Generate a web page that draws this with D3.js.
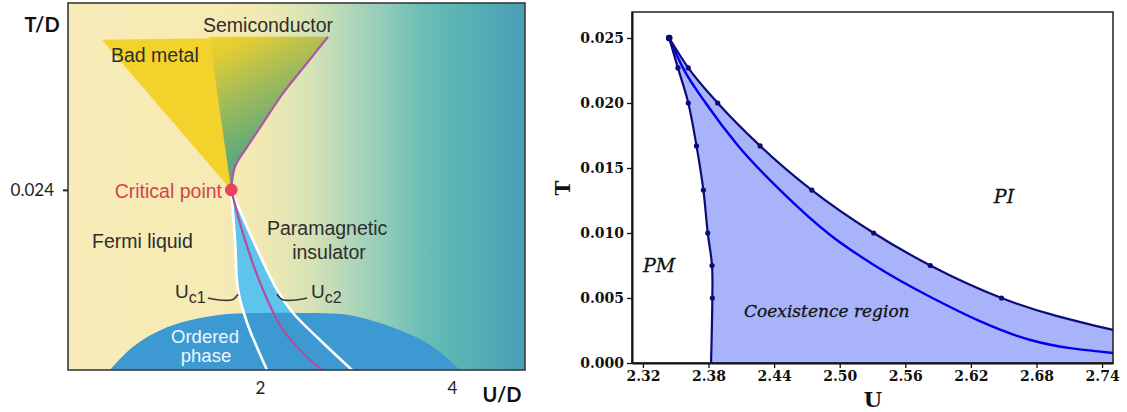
<!DOCTYPE html>
<html><head><meta charset="utf-8">
<script src="https://cdn.jsdelivr.net/npm/d3@7"></script>
<style>body{margin:0;background:#fff;} svg{display:block;}</style>
</head><body>
<svg id="chart" width="1127" height="412"></svg>
<script>
// ---------- Left schematic panel data (U/D, T/D) ----------
const leftXTicks = [2, 4];
const leftYTicks = [0.024];
const criticalPoint = [1.70, 0.024];
const fanTopLeft = [0.354, 0.0440];
const fanSplitTop = [1.47, 0.0444];
const semicondU = [1.70, 1.74, 1.865, 2.031, 2.24, 2.49, 2.708];
const semicondT = [0.024, 0.0271, 0.0297, 0.0329, 0.0369, 0.0409, 0.0444];
const purpleLowU = [1.70, 1.844, 2.031, 2.24, 2.49, 2.646];
const purpleLowT = [0.024, 0.0173, 0.0107, 0.0053, 0.0017, 0];
const uc1SchemU = [1.70, 1.74, 1.771, 1.865, 1.979, 2.073];
const uc1SchemT = [0.024, 0.0173, 0.0107, 0.0063, 0.0027, 0];
const uc2SchemU = [1.70, 1.927, 2.177, 2.344, 2.625, 2.958];
const uc2SchemT = [0.024, 0.0173, 0.0107, 0.0076, 0.0040, 0];
const domeU = [0.4375, 0.677, 1.031, 1.552, 2.073, 2.417, 2.9375, 3.458, 3.802, 4.083];
const domeT = [0, 0.0031, 0.0057, 0.0073, 0.0076, 0.0076, 0.0073, 0.0053, 0.0031, 0];
const hook1U = [1.458, 1.60, 1.72, 1.771];
const hook1T = [0.0096, 0.0093, 0.0094, 0.0101];
const hook2U = [2.177, 2.23, 2.35, 2.49];
const hook2T = [0.0101, 0.0094, 0.0093, 0.0096];

// ---------- Right chart data (U, T) ----------
const uc1U = [2.344, 2.352, 2.3615, 2.369, 2.3753, 2.3793, 2.3832, 2.3835];
const uc1T = [0.025, 0.0227, 0.020, 0.0167, 0.0133, 0.010, 0.0075, 0.005];
const uc1FitEnd = [2.3823, 0];
const uc2U = [2.344, 2.3615, 2.3884, 2.4272, 2.4745, 2.5311, 2.5829, 2.648];
const uc2T = [0.025, 0.0227, 0.020, 0.0167, 0.0133, 0.010, 0.0075, 0.005];
const uc2FitEnd = [2.75, 0.00254];
const midU = [2.344, 2.3566, 2.3774, 2.4072, 2.4455, 2.4913, 2.532, 2.583, 2.6745, 2.7505];
const midT = [0.025, 0.0227, 0.020, 0.0167, 0.0133, 0.00985, 0.0075, 0.00508, 0.00177, 0.00077];
const xTicksR = [2.32, 2.38, 2.44, 2.50, 2.56, 2.62, 2.68, 2.74];
const yTicksR = [0, 0.005, 0.010, 0.015, 0.020, 0.025];

const zip = (a, b) => a.map((v, i) => [v, b[i]]);
const svg = d3.select("#chart");
const defs = svg.append("defs");

// ================= LEFT PANEL =================
const L = {x0: 68, x1: 525, y0: 3, y1: 370};
const xL = d3.scaleLinear().domain([0, 4.76]).range([L.x0, L.x1]);
const yL = d3.scaleLinear().domain([0, 0.0489]).range([L.y1, L.y0]);
const lineL = d3.line().x(d => xL(d[0])).y(d => yL(d[1])).curve(d3.curveCatmullRom.alpha(0.5));

const bg = defs.append("linearGradient").attr("id", "bgL")
  .attr("gradientUnits", "userSpaceOnUse")
  .attr("x1", L.x0).attr("y1", 0).attr("x2", L.x1).attr("y2", 0);
[[0, "#f7ebb7"], [0.36, "#f6eab4"], [0.44, "#eee8b2"], [0.53, "#d6e3b5"], [0.62, "#b0d6ba"],
 [0.705, "#8ccab9"], [0.77, "#6ebfb6"], [0.84, "#5cb6b3"], [0.92, "#52aab6"], [1, "#4a9db6"]]
 .forEach(([o, c]) => bg.append("stop").attr("offset", o).attr("stop-color", c));

const fanG = defs.append("linearGradient").attr("id", "fanG")
  .attr("gradientUnits", "userSpaceOnUse")
  .attr("x1", 208).attr("y1", 40).attr("x2", 262).attr("y2", 145);
[[0, "#f0d22e"], [0.15, "#e2cd34"], [0.5, "#a8bd55"], [1, "#5ea97b"]]
 .forEach(([o, c]) => fanG.append("stop").attr("offset", o).attr("stop-color", c));

defs.append("clipPath").attr("id", "clipL").append("rect")
  .attr("x", L.x0).attr("y", L.y0).attr("width", L.x1 - L.x0).attr("height", L.y1 - L.y0);

const gL = svg.append("g");
const gLc = gL.append("g").attr("clip-path", "url(#clipL)");
gLc.append("rect").attr("x", L.x0).attr("y", L.y0).attr("width", L.x1 - L.x0).attr("height", L.y1 - L.y0)
  .attr("fill", "url(#bgL)");

const semi = zip(semicondU, semicondT);
const semiTail = lineL(semi).replace(/^M[^LC]*/, "");
const fanPath = "M" + xL(fanTopLeft[0]) + "," + yL(fanTopLeft[1]) + "L" + xL(criticalPoint[0]) + "," + yL(criticalPoint[1]) + semiTail + "Z";
gLc.append("path").attr("d", fanPath).attr("fill", "#f4d22c");
const greenPath = "M" + xL(fanSplitTop[0]) + "," + yL(fanSplitTop[1]) + "L" + xL(criticalPoint[0]) + "," + yL(criticalPoint[1]) + semiTail + "Z";
gLc.append("path").attr("d", greenPath).attr("fill", "url(#fanG)");

const uc1S = zip(uc1SchemU, uc1SchemT), uc2S = zip(uc2SchemU, uc2SchemT);
const coexPath = lineL(uc1S) + "L" + xL(uc2S[uc2S.length - 1][0]) + "," + yL(0)
  + lineL(uc2S.slice().reverse()).replace(/^M/, "L") + "Z";
gLc.append("path").attr("d", coexPath).attr("fill", "#5fc4ec");

gLc.append("path").attr("d", lineL(zip(domeU, domeT)) + "Z").attr("fill", "#3c99d1");

gLc.append("path").attr("d", lineL(uc1S)).attr("fill", "none").attr("stroke", "#fff").attr("stroke-width", 2.6);
gLc.append("path").attr("d", lineL(uc2S)).attr("fill", "none").attr("stroke", "#fff").attr("stroke-width", 2.6);
gLc.append("path").attr("d", lineL(semi)).attr("fill", "none").attr("stroke", "#b055a8").attr("stroke-width", 2.2);
gLc.append("path").attr("d", lineL(zip(purpleLowU, purpleLowT))).attr("fill", "none").attr("stroke", "#b04f9e").attr("stroke-width", 2.2);
gLc.append("circle").attr("cx", xL(criticalPoint[0])).attr("cy", yL(criticalPoint[1])).attr("r", 6.3).attr("fill", "#e8435a");
gLc.append("path").attr("d", lineL(zip(hook1U, hook1T))).attr("fill", "none").attr("stroke", "#3a3a3a").attr("stroke-width", 1.6);
gLc.append("path").attr("d", lineL(zip(hook2U, hook2T))).attr("fill", "none").attr("stroke", "#3a3a3a").attr("stroke-width", 1.6);

gL.append("rect").attr("x", L.x0).attr("y", L.y0).attr("width", L.x1 - L.x0).attr("height", L.y1 - L.y0)
  .attr("fill", "none").attr("stroke", "#3a3a3a").attr("stroke-width", 1.6);

const axL = gL.append("g").attr("transform", `translate(${L.x0},0)`)
  .call(d3.axisLeft(yL).tickValues(leftYTicks).tickFormat(d3.format(".3f")).tickSize(5).tickSizeOuter(0).tickPadding(9));
axL.select(".domain").remove();
axL.selectAll("line").attr("stroke", "#222").attr("stroke-width", 2);
axL.selectAll("text").attr("font-family", "Lato, 'Open Sans', sans-serif").attr("font-size", 17).attr("fill", "#222");
const axB = gL.append("g").attr("transform", `translate(0,${L.y1})`)
  .call(d3.axisBottom(xL).tickValues(leftXTicks).tickFormat(d3.format("d")).tickSize(0).tickSizeOuter(0).tickPadding(12));
axB.select(".domain").remove();
axB.selectAll("text").attr("font-family", "Lato, 'Open Sans', sans-serif").attr("font-size", 17).attr("fill", "#222");

gL.append("text").attr("x", 42).attr("y", 32).attr("text-anchor", "middle")
  .attr("font-family", "Lato, 'Open Sans', sans-serif").attr("font-weight", "bold").attr("font-size", 20).attr("fill", "#111").text("T/D");
gL.append("text").attr("x", 502).attr("y", 402).attr("text-anchor", "middle")
  .attr("font-family", "Lato, 'Open Sans', sans-serif").attr("font-weight", "bold").attr("font-size", 20).attr("fill", "#111").text("U/D");

const sans = "'Liberation Sans', Arial, sans-serif";
function lt(x, y, s, opts = {}) {
  return gL.append("text").attr("x", x).attr("y", y).attr("font-family", sans)
    .attr("font-size", opts.size || 19.5).attr("fill", opts.fill || "#2e2e2e")
    .attr("text-anchor", opts.anchor || "start").text(s);
}
lt(268, 32, "Semiconductor", {anchor: "middle"});
lt(111, 62, "Bad metal");
lt(222, 198, "Critical point", {anchor: "end", fill: "#d4424f"});
lt(92, 248, "Fermi liquid");
lt(267, 235, "Paramagnetic");
lt(329, 259, "insulator", {anchor: "middle"});
lt(205, 343, "Ordered", {anchor: "middle", fill: "#eef6ff", size: 18.5});
lt(206, 362, "phase", {anchor: "middle", fill: "#eef6ff", size: 18.5});
lt(175, 298, "U", {size: 19}).append("tspan").attr("dy", 5).attr("font-size", 16).text("c1");
lt(311, 298, "U", {size: 19}).append("tspan").attr("dy", 5).attr("font-size", 16).text("c2");

// ================= RIGHT PANEL =================
const R = {x0: 632, x1: 1113, y0: 12, y1: 363};
const xR = d3.scaleLinear().domain([2.31, 2.75]).range([R.x0, R.x1]);
const yR = d3.scaleLinear().domain([0, 0.027]).range([R.y1, R.y0]);
const lineR1 = d3.line().x(d => xR(d[0])).y(d => yR(d[1])).curve(d3.curveCatmullRom.alpha(0.5));
const lineRm = d3.line().x(d => xR(d[0])).y(d => yR(d[1])).curve(d3.curveMonotoneX);

defs.append("clipPath").attr("id", "clipR").append("rect")
  .attr("x", R.x0).attr("y", R.y0).attr("width", R.x1 - R.x0).attr("height", R.y1 - R.y0);

const gR = svg.append("g");
const gRc = gR.append("g").attr("clip-path", "url(#clipR)");

const uc1Pts = zip(uc1U, uc1T), uc2Pts = zip(uc2U, uc2T);
const uc1Curve = uc1Pts.concat([uc1FitEnd]);
const uc2Curve = uc2Pts.concat([uc2FitEnd]);
// reverse direction of a monotone path by building it with descending data is not allowed; build forward then trace
const uc2Path = lineRm(uc2Curve);
const fillPath = lineR1(uc1Curve) + "L" + xR(2.75) + "," + yR(0) + "L" + xR(uc2FitEnd[0]) + "," + yR(uc2FitEnd[1]) + "Z";
// fill: region under uc2 (monotone) from critical point to right edge, minus region left of uc1
const fullUnder = uc2Path + "L" + xR(2.75) + "," + yR(0) + "L" + xR(uc1FitEnd[0]) + "," + yR(0)
  + lineR1(uc1Curve.slice().reverse()).replace(/^M/, "L") + "Z";
gRc.append("path").attr("d", fullUnder).attr("fill", "#a9b3f9");

gRc.append("path").attr("d", lineRm(zip(midU, midT))).attr("fill", "none").attr("stroke", "#0000ee").attr("stroke-width", 2.4);
gRc.append("path").attr("d", lineR1(uc1Curve)).attr("fill", "none").attr("stroke", "#0b0b7c").attr("stroke-width", 2.2);
gRc.append("path").attr("d", uc2Path).attr("fill", "none").attr("stroke", "#0b0b7c").attr("stroke-width", 2.2);

gRc.selectAll("circle.p1").data(uc1Pts).join("circle").attr("class", "p1")
  .attr("cx", d => xR(d[0])).attr("cy", d => yR(d[1])).attr("r", (d, i) => i === 0 ? 3.2 : 2.6).attr("fill", "#0b0b7c");
gRc.selectAll("circle.p2").data(uc2Pts).join("circle").attr("class", "p2")
  .attr("cx", d => xR(d[0])).attr("cy", d => yR(d[1])).attr("r", (d, i) => i === 0 ? 3.2 : 2.6).attr("fill", "#0b0b7c");

gR.append("rect").attr("x", R.x0).attr("y", R.y0).attr("width", R.x1 - R.x0).attr("height", R.y1 - R.y0)
  .attr("fill", "none").attr("stroke", "#111").attr("stroke-width", 1.4);

const serif = "'DejaVu Serif', serif";
const axRY = gR.append("g").attr("transform", `translate(${R.x0},0)`)
  .call(d3.axisLeft(yR).tickValues(yTicksR).tickFormat(d3.format(".3f")).tickSize(5).tickSizeOuter(0).tickPadding(3));
const axRX = gR.append("g").attr("transform", `translate(0,${R.y1})`)
  .call(d3.axisBottom(xR).tickValues(xTicksR).tickFormat(d3.format(".2f")).tickSize(5).tickSizeOuter(0).tickPadding(3));
[axRY, axRX].forEach(a => {
  a.select(".domain").attr("stroke", "#111").attr("stroke-width", 2);
  a.selectAll(".tick line").attr("stroke", "#111").attr("stroke-width", 1.3);
  a.selectAll("text").attr("font-family", serif).attr("font-weight", "bold").attr("font-size", 14).attr("fill", "#111");
});

gR.append("text").attr("transform", "translate(570,188) rotate(-90)").attr("text-anchor", "middle")
  .attr("font-family", serif).attr("font-weight", "bold").attr("font-size", 20).attr("fill", "#111").text("T");
gR.append("text").attr("x", 873).attr("y", 407).attr("text-anchor", "middle")
  .attr("font-family", serif).attr("font-weight", "bold").attr("font-size", 21).attr("fill", "#111").text("U");

function rt(x, y, s, anchor, size) {
  gR.append("text").attr("x", x).attr("y", y).attr("text-anchor", anchor || "middle")
    .attr("font-family", serif).attr("font-style", "italic").attr("font-size", size).attr("fill", "#111")
    .attr("stroke", "#111").attr("stroke-width", 0.3).text(s);
}
rt(659, 272, "PM", "middle", 19);
rt(1004, 203, "PI", "middle", 19);
rt(744, 317, "Coexistence region", "start", 17);
</script>
</body></html>
